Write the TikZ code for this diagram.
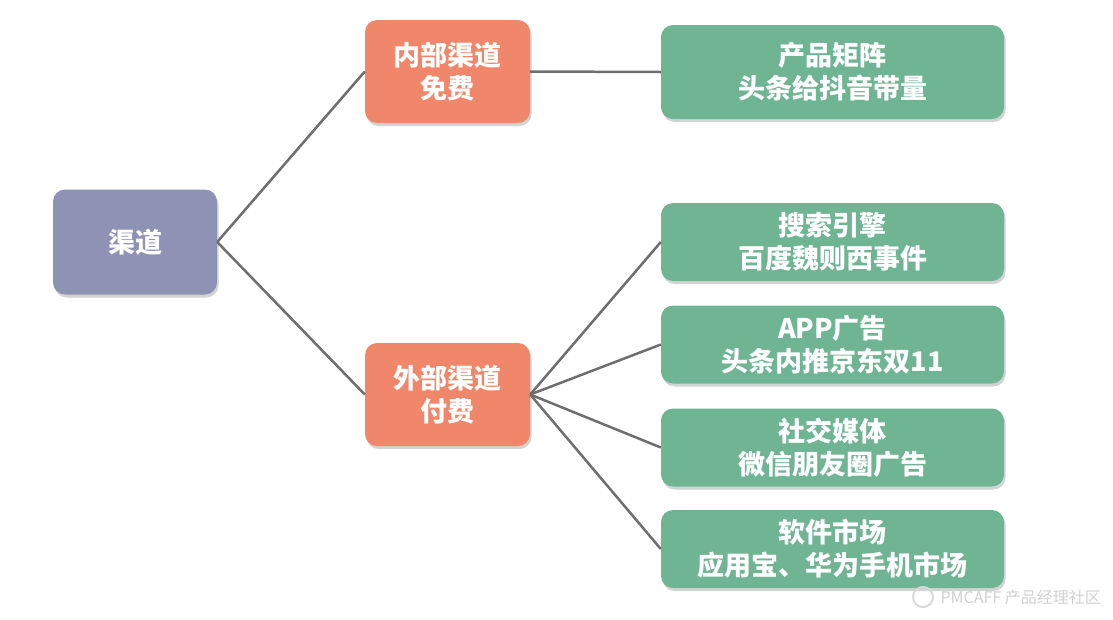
\documentclass[tikz,border=0pt]{standalone}
\usepackage{fontspec}
\setmainfont{Noto Sans CJK SC}
\usetikzlibrary{shadows}

\definecolor{rootcolor}{HTML}{8E93B5}
\definecolor{midcolor}{HTML}{F0866A}
\definecolor{leafcolor}{HTML}{6FB594}
\definecolor{linkcolor}{HTML}{6E6E6E}

\tikzset{
  box/.style={rounded corners=12pt, text=white, align=center, inner sep=0pt,
    font=\fontsize{27}{33}\selectfont\bfseries,
    drop shadow={shadow xshift=1.5pt, shadow yshift=-3pt, opacity=0.35}},
  rootbox/.style={box, fill=rootcolor, minimum width=164pt, minimum height=105pt},
  midbox/.style={box, fill=midcolor, minimum width=165pt, minimum height=103pt},
  leafbox/.style={box, fill=leafcolor, minimum width=343pt, minimum height=78pt},
  link/.style={draw=linkcolor, line width=2.5pt}
}

\begin{document}
\begin{tikzpicture}[x=1pt, y=-1pt]
    \useasboundingbox (0, 0) rectangle (1113, 619);
    % 根节点与两类渠道
    \node[rootbox] (root) at (135, 242) {渠道};
    \node[midbox] (inner) at (447.5, 71.5) {内部渠道\\免费};
    \node[midbox] (outer) at (447.5, 394.5) {外部渠道\\付费};
    % 具体方式
    \node[leafbox, minimum height=94pt] (matrix) at (832.5, 72) {产品矩阵\\头条给抖音带量};
    \node[leafbox] (search) at (832.5, 242) {搜索引擎\\百度魏则西事件};
    \node[leafbox] (app) at (832.5, 344.5) {APP广告\\头条内推京东双11};
    \node[leafbox] (social) at (832.5, 447.5) {社交媒体\\微信朋友圈广告};
    \node[leafbox] (store) at (832.5, 549) {软件市场\\应用宝、华为手机市场};
    % 连线
    \draw[link] (root.east) -- (inner.west);
    \draw[link] (root.east) -- (outer.west);
    \draw[link] (inner.east) -- (matrix.west);
    \foreach \leaf in {search, app, social, store}
        \draw[link] (outer.east) -- (\leaf.west);
    % 水印
    \node[text=black!18, font=\fontsize{16}{16}\selectfont, anchor=west] (mark) at (937, 597) {PMCAFF 产品经理社区};
    \draw[black!15, line width=2pt] ([xshift=-14pt]mark.west) circle (10pt);
\end{tikzpicture}
\end{document}
